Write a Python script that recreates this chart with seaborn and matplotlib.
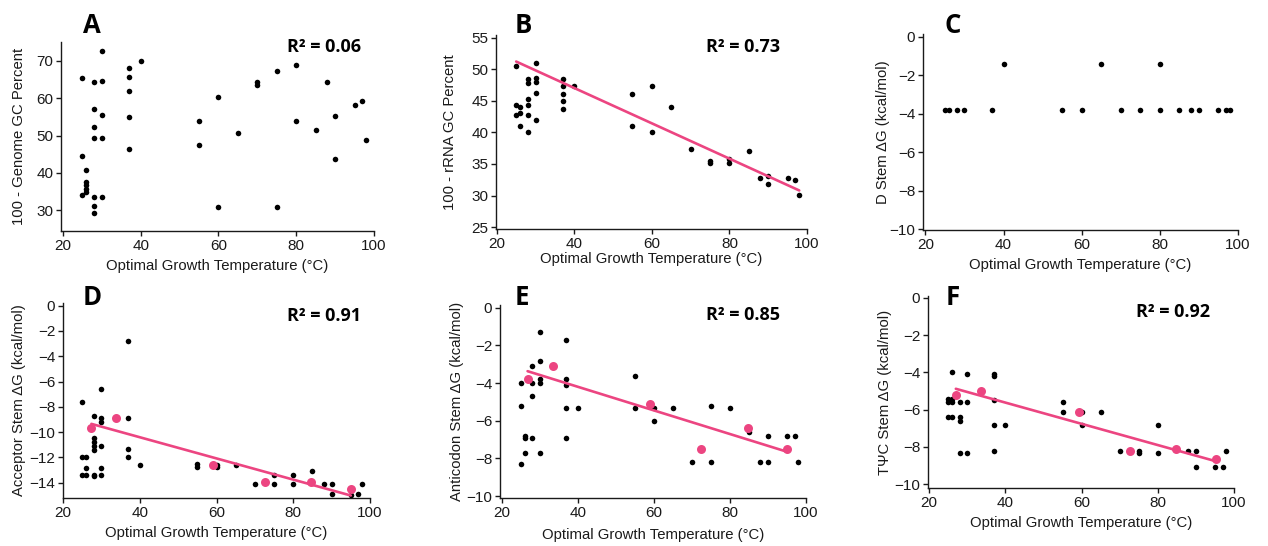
import numpy as np
import pandas as pd
import matplotlib
matplotlib.use("Agg")
import matplotlib.pyplot as plt
import seaborn as sns

# ---------------- data ----------------
# A: genome GC content vs optimal growth temperature
temp_a = [25, 25, 25, 26, 26, 26, 26, 26, 28, 28, 28, 28, 28, 28, 28,
          30, 30, 30, 30, 30, 37, 37, 37, 37, 37, 40, 55, 55, 60, 60, 65,
          70, 70, 75, 75, 80, 80, 85, 88, 90, 90, 95, 97, 98]
genome_gc = [65.3, 44.6, 34.0, 40.9, 37.6, 36.7, 35.8, 34.9,
             64.3, 57.2, 52.4, 49.3, 33.5, 31.1, 29.3,
             72.7, 64.7, 55.5, 49.3, 33.5,
             68.0, 65.6, 61.8, 54.9, 46.5, 70.0, 54.0, 47.6, 60.2, 31.0, 50.6,
             64.3, 63.4, 67.3, 31.0, 68.8, 53.9, 51.5, 64.3, 55.3, 43.7,
             58.1, 59.3, 48.7]

# B: rRNA GC content vs optimal growth temperature
temp_b = [25, 25, 25, 26, 26, 26, 28, 28, 28, 28, 28, 28,
          30, 30, 30, 30, 30, 37, 37, 37, 37, 37, 40, 55, 55, 60, 60, 65,
          70, 75, 75, 80, 80, 85, 88, 90, 90, 95, 97, 98]
rrna_gc = [50.5, 44.4, 42.7, 44.0, 43.1, 41.0, 48.4, 47.8, 45.3, 44.3, 42.7, 40.1,
           51.0, 48.6, 47.9, 46.3, 42.0, 48.4, 47.3, 46.0, 45.0, 43.7, 47.4,
           46.0, 41.0, 47.3, 40.0, 44.0, 37.3, 35.4, 35.1, 35.8, 35.1, 37.1,
           32.8, 33.1, 31.8, 32.8, 32.4, 30.1]
# published trend line for B (end points)
trend_temp_b = [25, 98]
trend_gc_b = [51.2, 30.8]

# C: D stem free energy
temp_c = [25, 26, 28, 30, 37, 55, 60, 70, 75, 80, 85, 88, 90, 95, 97, 98,
          40, 65, 80]
d_stem = [-3.8] * 16 + [-1.4, -1.4, -1.4]

# D: acceptor stem free energy
temp_d = [25, 25, 25, 26, 26, 26, 28, 28, 28, 28, 28, 28, 28,
          30, 30, 30, 30, 30, 30, 37, 37, 37, 37, 40, 55, 55, 60, 60, 65,
          70, 75, 75, 80, 80, 85, 88, 90, 90, 95, 97, 98]
acceptor = [-7.6, -12.0, -13.4, -12.0, -12.8, -13.4,
            -8.7, -10.5, -10.8, -11.1, -11.4, -13.4, -13.5,
            -6.6, -8.9, -9.2, -11.1, -12.8, -13.4,
            -2.8, -8.9, -11.3, -12.0, -12.6, -12.55, -12.75, -12.6, -12.75, -12.6,
            -14.1, -13.4, -14.1, -13.4, -14.1, -13.1, -14.1, -14.1, -14.9,
            -15.0, -14.9, -14.1]

# E: anticodon stem free energy
temp_e = [25, 25, 25, 26, 26, 26, 28, 28, 28, 28, 30, 30, 30, 30, 30,
          37, 37, 37, 37, 37, 40, 55, 55, 60, 60, 65, 70, 75, 75, 80, 85,
          88, 90, 90, 95, 97, 98]
anticodon = [-4.0, -5.2, -8.3, -6.8, -6.9, -7.7, -3.1, -4.0, -4.7, -6.9,
             -1.3, -2.8, -3.8, -4.0, -7.7, -1.7, -3.8, -4.1, -5.3, -6.9, -5.3,
             -3.6, -5.3, -5.3, -6.0, -5.3, -8.2, -5.2, -8.2, -5.3, -6.6,
             -8.2, -6.8, -8.2, -6.8, -6.8, -8.2]

# F: TΨC stem free energy
temp_f = [25, 25, 25, 26, 26, 26, 26, 28, 28, 28, 28, 30, 30, 30,
          37, 37, 37, 37, 37, 40, 55, 55, 60, 60, 65, 70, 75, 75, 80, 80,
          88, 90, 90, 95, 97, 98]
tpsic = [-5.4, -5.6, -6.4, -4.0, -5.4, -5.6, -6.4, -5.6, -6.4, -6.6, -8.3,
         -4.1, -5.6, -8.3, -4.1, -4.2, -5.5, -6.8, -8.2, -6.8, -5.6, -6.1,
         -6.1, -6.8, -6.1, -8.2, -8.2, -8.3, -6.8, -8.3, -8.2, -8.2, -9.1,
         -9.1, -9.1, -8.2]

# group means (highlighted points) used for the D-F trend lines
mean_temp_d = [27.4, 33.8, 59.2, 72.6, 84.6, 95.0]
mean_acceptor = [-9.7, -8.9, -12.6, -13.9, -13.9, -14.5]
mean_temp_e = [26.8, 33.4, 59.0, 72.5, 84.7, 95.0]
mean_anticodon = [-3.8, -3.1, -5.1, -7.5, -6.4, -7.5]
mean_temp_f = [27.0, 33.6, 59.2, 72.6, 84.8, 95.2]
mean_tpsic = [-5.2, -5.0, -6.1, -8.2, -8.1, -8.65]

panel_letters = ["A", "B", "C", "D", "E", "F"]
r2_labels = ["R² = 0.06", "R² = 0.73", None, "R² = 0.91", "R² = 0.85", "R² = 0.92"]
y_titles = ["100 - Genome GC Percent", "100 - rRNA GC Percent",
            "D Stem ΔG (kcal/mol)", "Acceptor Stem ΔG (kcal/mol)",
            "Anticodon Stem ΔG (kcal/mol)", "TΨC Stem ΔG (kcal/mol)"]
x_title = "Optimal Growth Temperature (°C)"
x_ticks = [20, 40, 60, 80, 100]
y_ticks = [[30, 40, 50, 60, 70], [25, 30, 35, 40, 45, 50, 55],
           [0, -2, -4, -6, -8, -10], [0, -2, -4, -6, -8, -10, -12, -14],
           [0, -2, -4, -6, -8, -10], [0, -2, -4, -6, -8, -10]]

# ---------------- style ----------------
sns.set_style("ticks")
plt.rcParams["font.family"] = ["Liberation Sans", "DejaVu Sans"]
PINK = "#EC4581"
INK = "#1a1a1a"

W, H = 1268, 546
fig = plt.figure(figsize=(W / 100, H / 100), dpi=100)


def axes_px(left, top, right, bottom):
    return fig.add_axes([left / W, 1 - bottom / H, (right - left) / W, (bottom - top) / H])


# (left, top, right, bottom) in pixels, axis limits, label anchors
layout = [
    dict(box=(61, 42, 374, 231), xlim=(19.5, 100), ylim=(24.5, 75.0),
         letter=(83, 32.7), r2=(287, 51.7), ylab_x=19, xlab_y=266),
    dict(box=(496, 35, 807, 229), xlim=(19.8, 100), ylim=(24.7, 55.4),
         letter=(515, 32.7), r2=(706, 51.7), ylab_x=450, xlab_y=259),
    dict(box=(923, 34, 1238, 230), xlim=(19.4, 100), ylim=(-10.05, 0.15),
         letter=(945, 32.7), r2=None, ylab_x=883, xlab_y=265),
    dict(box=(63, 303, 370, 498), xlim=(20.1, 100), ylim=(-15.2, 0.2),
         letter=(83, 305), r2=(287, 320.7), ylab_x=19, xlab_y=533),
    dict(box=(500, 305, 806, 498), xlim=(19.55, 100), ylim=(-10.1, 0.15),
         letter=(515, 305), r2=(706, 320.3), ylab_x=457, xlab_y=535),
    dict(box=(928, 296, 1234, 488), xlim=(19.7, 100), ylim=(-10.2, 0.1),
         letter=(946, 305), r2=(1136, 317.3), ylab_x=885, xlab_y=523),
]

series = [(temp_a, genome_gc), (temp_b, rrna_gc), (temp_c, d_stem),
          (temp_d, acceptor), (temp_e, anticodon), (temp_f, tpsic)]
means = [None, None, None, (mean_temp_d, mean_acceptor),
         (mean_temp_e, mean_anticodon), (mean_temp_f, mean_tpsic)]

for i, spec in enumerate(layout):
    ax = axes_px(*spec["box"])
    x, y = series[i]
    sns.scatterplot(x=x, y=y, ax=ax, color="black", s=16, linewidth=0,
                    legend=False, zorder=3)
    if i == 1:
        sns.lineplot(x=trend_temp_b, y=trend_gc_b, ax=ax, color=PINK, lw=1.9,
                     zorder=4, legend=False)
    if means[i] is not None:
        mx, my = means[i]
        sns.regplot(x=np.array(mx, float), y=np.array(my, float), ax=ax,
                    scatter=False, ci=None, color=PINK, line_kws=dict(lw=1.9, zorder=4))
        sns.scatterplot(x=mx, y=my, ax=ax, color=PINK, s=42, linewidth=0,
                        legend=False, zorder=5)

    ax.set_xlim(*spec["xlim"])
    ax.set_ylim(*spec["ylim"])
    ax.set_xticks(x_ticks)
    ax.set_yticks(y_ticks[i])
    for s in ("top", "right"):
        ax.spines[s].set_visible(False)
    for s in ("left", "bottom"):
        ax.spines[s].set_linewidth(1.0)
        ax.spines[s].set_color(INK)
    ax.tick_params(direction="out", length=3.5, width=1.0, color=INK,
                   labelsize=11, labelcolor=INK, pad=2)

    left, top, right, bottom = spec["box"]
    ax.set_xlabel(x_title, fontsize=10.7, color=INK)
    ax.set_ylabel(y_titles[i], fontsize=10.7, color=INK)
    ax.xaxis.set_label_coords(0.5, (bottom - spec["xlab_y"]) / (bottom - top))
    ax.xaxis.label.set_va("center")
    ax.yaxis.set_label_coords((spec["ylab_x"] - left) / (right - left), 0.5)
    ax.yaxis.label.set_va("center")

    lx, ly = spec["letter"]
    fig.text(lx / W, 1 - ly / H, panel_letters[i], fontsize=18.5,
             fontweight="bold", family=["Open Sans", "DejaVu Sans"],
             ha="left", va="baseline", color="black")
    if spec["r2"] is not None:
        rx, ry = spec["r2"]
        fig.text(rx / W, 1 - ry / H, r2_labels[i], fontsize=13,
                 fontweight="bold", family=["Open Sans", "DejaVu Sans"],
                 ha="left", va="baseline", color="black")

fig.savefig("out.png", dpi=100, facecolor="white")
